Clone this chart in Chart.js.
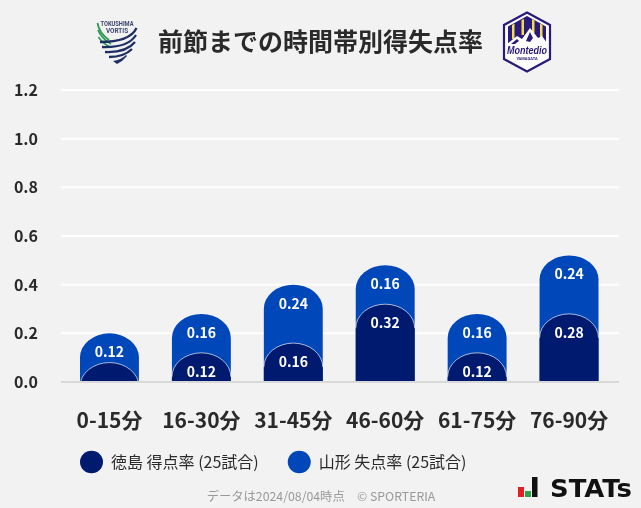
<!DOCTYPE html>
<html lang="ja">
<head>
<meta charset="utf-8">
<script src="https://cdn.jsdelivr.net/npm/chart.js@4"></script>
<style>
  html, body { margin: 0; padding: 0; background: #f2f2f2; }
  #wrap { position: relative; width: 641px; height: 508px; overflow: hidden; }
  canvas { position: absolute; left: 0; top: 0; }
  svg { position: absolute; }
</style>
</head>
<body>
<div id="wrap">
  <canvas id="chart" width="641" height="508"></canvas>

  <!-- Tokushima crest -->
  <svg style="left:96px;top:19px" width="42" height="46" viewBox="0 0 42 46">
    <text x="21" y="7" font-family="Roboto" font-weight="700" font-size="6.4" textLength="33" lengthAdjust="spacingAndGlyphs" text-anchor="middle" fill="#39476b">TOKUSHIMA</text>
    <text x="21" y="14" font-family="Roboto" font-weight="700" font-size="6.4" text-anchor="middle" fill="#39476b">VORTIS</text>
    <path d="M1.5 4 Q3 14 13 21" fill="none" stroke="#2f9a58" stroke-width="1.8"/>
    <path d="M2 11 Q5 19 15 25" fill="none" stroke="#2f9a58" stroke-width="1.8"/>
    <path d="M2.5 18 Q6 24 14 28" fill="none" stroke="#2f9a58" stroke-width="1.5"/>
    <path d="M40.5 9 Q34 23 4 23" fill="none" stroke="#1d2f63" stroke-width="2.3"/>
    <path d="M40 16 Q32 29 6 28" fill="none" stroke="#1d2f63" stroke-width="2.3"/>
    <path d="M39 23 Q30 34 9 33" fill="none" stroke="#1d2f63" stroke-width="2.3"/>
    <path d="M36 30 Q28 38 13 38" fill="none" stroke="#1d2f63" stroke-width="2.3"/>
    <path d="M30 36 Q25 41 17 42 L21 45 Q27 42 31 37 Z" fill="#1d2f63"/>
  </svg>

  <!-- Yamagata crest -->
  <svg style="left:502px;top:11px" width="50" height="62" viewBox="0 0 50 62">
    <path d="M25 1.5 L48 14 V48 L25 60.5 L2 48 V14 Z" fill="#fff" stroke="#2a1a7c" stroke-width="2.2"/>
    <path d="M6 15.5 L25 5 L44 15.5 V32 H6 Z" fill="#2a1a7c"/>
    <path d="M10 14 V28 H12.5 V12.5 Z M19.5 9 V24 H22 V8 Z M30 8 V22 H32.5 V9.5 Z M38 12.5 V27 H40.5 V14 Z" fill="#f3dc4d"/>
    <path d="M5 33 L15 25 L20 28 L28 17 L36 27 L40 25 L45 32 V35 H5 Z" fill="#fff"/>
    <path d="M9 33 L15 28 L17 30 L13 33 Z M24 30 L28 21 L31 27 L28 31 Z" fill="#2a1a7c"/>
    <text x="25" y="43" font-family="Liberation Sans" font-weight="700" font-style="italic" font-size="10" textLength="40" lengthAdjust="spacingAndGlyphs" text-anchor="middle" fill="#2a1a7c">Montedio</text>
    <text x="25" y="48.5" font-family="Roboto" font-weight="700" font-size="4" text-anchor="middle" fill="#2a1a7c">YAMAGATA</text>
  </svg>

  <!-- STATs mark -->
  <svg style="left:517px;top:476px" width="120" height="24" viewBox="0 0 120 24">
    <rect x="1" y="11" width="6" height="10" fill="#e01f26"/>
    <rect x="8" y="15" width="6" height="6" fill="#2aa34a"/>
    <rect x="15" y="1" width="5.5" height="20" fill="#111"/>
    <text x="33" y="21" font-family="DejaVu Sans" font-weight="700" font-size="24" textLength="82" lengthAdjust="spacingAndGlyphs" fill="#111">STATs</text>
  </svg>
</div>

<script>
const categories = ['0-15分', '16-30分', '31-45分', '46-60分', '61-75分', '76-90分'];
const tokushimaScored = [0.08, 0.12, 0.16, 0.32, 0.12, 0.28];
const yamagataConceded = [0.12, 0.16, 0.24, 0.16, 0.16, 0.24];
const tokushimaLabel = '徳島 得点率 (25試合)';
const yamagataLabel = '山形 失点率 (25試合)';
const titleText = '前節までの時間帯別得失点率';
const footerText = 'データは2024/08/04時点　© SPORTERIA';

const NAVY = '#001a70';
const BLUE = '#0047b9';
const INK = '#2a2a2a';
const FONT = '"Noto Sans CJK JP", "Noto Sans", sans-serif';
const DOME_HEIGHT = 24;
const MIN_LABEL_VALUE = 0.1;

// Chart.js radii are circular and collapse on short bars, the bars here have
// flat elliptical tops clipped by the axis, so the shape is drawn per element
const domeBars = {
    id: 'domeBars',
    beforeDatasetsDraw(chart) {
        // grid runs a little past the category band on both sides
        const ctx = chart.ctx;
        const y = chart.scales.y;
        ctx.save();
        ctx.lineWidth = 2;
        y.ticks.forEach((tick, i) => {
            const py = y.getPixelForTick(i);
            ctx.strokeStyle = tick.value === 0 ? '#d8d8d8' : '#fff';
            ctx.beginPath();
            ctx.moveTo(61, py);
            ctx.lineTo(619, py);
            ctx.stroke();
        });
        ctx.restore();
    },
    beforeDatasetDraw(chart, args) {
        const ctx = chart.ctx;
        const zero = chart.scales.y.getPixelForValue(0) - 1;
        const dataset = chart.data.datasets[args.index];
        ctx.save();
        ctx.beginPath();
        ctx.rect(0, 0, chart.width, zero);
        ctx.clip();
        args.meta.data.forEach((bar) => {
            const half = bar.width / 2;
            ctx.beginPath();
            ctx.moveTo(bar.x - half, zero + DOME_HEIGHT);
            ctx.lineTo(bar.x - half, bar.y + DOME_HEIGHT);
            ctx.ellipse(bar.x, bar.y + DOME_HEIGHT, half, DOME_HEIGHT, 0, Math.PI, 2 * Math.PI);
            ctx.lineTo(bar.x + half, zero + DOME_HEIGHT);
            ctx.closePath();
            ctx.fillStyle = dataset.backgroundColor;
            ctx.fill();
            if (args.index === 0) {
                ctx.beginPath();
                ctx.ellipse(bar.x, bar.y + DOME_HEIGHT, half, DOME_HEIGHT, 0, Math.PI, 2 * Math.PI);
                ctx.lineWidth = 1;
                ctx.strokeStyle = 'rgba(255,255,255,0.65)';
                ctx.stroke();
            }
        });
        ctx.restore();
        return false;
    },
    afterDatasetsDraw(chart) {
        const ctx = chart.ctx;
        ctx.save();
        ctx.font = '700 14px ' + FONT;
        ctx.fillStyle = '#fff';
        ctx.textAlign = 'center';
        ctx.textBaseline = 'middle';
        chart.data.datasets.forEach((dataset, d) => {
            chart.getDatasetMeta(d).data.forEach((bar, i) => {
                if (dataset.data[i] < MIN_LABEL_VALUE) return;
                ctx.fillText(dataset.data[i].toFixed(2), bar.x, bar.y + 18.5);
            });
        });
        ctx.restore();
    },
    afterLayout(chart) {
        // legend and footer sit at fixed spots, not where the box layout stacks them
        chart.legend.left = 80 - 29;
        chart.legend.top = 425;
        chart.titleBlock.left += 12;
        const footer = chart.boxes.find((b) => b.options && b.options.text === footerText);
        footer.left = 0;
        footer.right = 642;
        footer.top = 489;
        footer.bottom = 504;
    }
};

new Chart(document.getElementById('chart'), {
    type: 'bar',
    data: {
        labels: categories,
        datasets: [
            { label: tokushimaLabel, data: tokushimaScored, backgroundColor: NAVY, barPercentage: 0.641, categoryPercentage: 1 },
            { label: yamagataLabel, data: yamagataConceded, backgroundColor: BLUE, barPercentage: 0.641, categoryPercentage: 1 },
        ]
    },
    options: {
        responsive: false,
        animation: false,
        layout: { padding: { left: 14, right: 26, top: 26, bottom: -19 } },
        scales: {
            x: {
                stacked: true,
                grid: { display: false, drawTicks: false },
                border: { display: false },
                ticks: { color: INK, font: { family: FONT, size: 21, weight: '700' }, padding: 25 }
            },
            y: {
                stacked: true,
                min: 0,
                max: 1.2,
                afterFit: (scale) => { scale.width = 49.5; },
                grid: { display: false, drawTicks: false },
                border: { display: false },
                ticks: {
                    stepSize: 0.2,
                    color: INK,
                    padding: 25.5,
                    font: { family: FONT, size: 16, weight: '700' },
                    callback: (v) => v.toFixed(1)
                }
            }
        },
        plugins: {
            tooltip: { enabled: false },
            title: {
                display: true,
                text: titleText,
                color: INK,
                font: { family: FONT, size: 25, weight: '700' },
                padding: { top: 0, bottom: 34 }
            },
            subtitle: {
                display: true,
                position: 'bottom',
                text: footerText,
                color: '#999',
                font: { family: FONT, size: 12.3, weight: '400' },
                padding: 0
            },
            legend: {
                position: 'bottom',
                align: 'start',
                labels: {
                    usePointStyle: true,
                    pointStyle: 'circle',
                    pointStyleWidth: 23,
                    boxHeight: 16,
                    padding: 29,
                    color: INK,
                    font: { family: FONT, size: 16, weight: '400' }
                }
            }
        }
    },
    plugins: [domeBars]
});
</script>
</body>
</html>
